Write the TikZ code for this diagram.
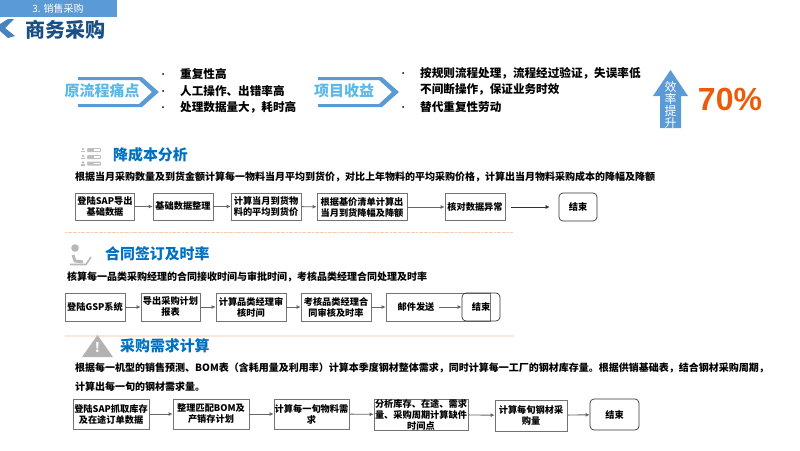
\documentclass[tikz,border=0pt]{standalone}
\usepackage{fontspec}
\setmainfont{Noto Sans CJK SC}
\newfontfamily\latinbold{Liberation Sans}
\usetikzlibrary{arrows.meta}
\definecolor{hdblue}{HTML}{5B9BD5}
\definecolor{ttblue}{HTML}{1A4F85}
\definecolor{skblue}{HTML}{5CB8E6}
\definecolor{secblue}{HTML}{0070C0}
\definecolor{iconred}{HTML}{ED5A0A}
\definecolor{rulepeach}{HTML}{F8CBAD}
\tikzset{
	flowbox/.style={draw=black!55,line width=.8pt,fill=white,align=center,inner sep=0pt,font=\fontsize{9.2}{11}\selectfont\bfseries},
	flowend/.style={draw=black!80,line width=.7pt,rounded corners=4pt,align=center,inner sep=0pt,font=\fontsize{9.2}{11}\selectfont\bfseries},
	flowarrow/.style={draw=black!60,line width=.9pt,-{Latex[length=4pt,width=4pt]}},
	sectitle/.style={anchor=west,inner sep=0pt,text=secblue,font=\fontsize{14.9}{16}\selectfont\bfseries},
	paratext/.style={anchor=west,inner sep=0pt,font=\fontsize{10}{12}\selectfont\bfseries},
	bullettext/.style={anchor=west,inner sep=0pt,font=\fontsize{11.6}{13}\selectfont\bfseries},
	chevlabel/.style={inner sep=0pt,text=skblue,font=\fontsize{15}{17}\selectfont\bfseries},
}
\begin{document}
\begin{tikzpicture}[x=1pt,y=-1pt]
	\useasboundingbox (0,0) rectangle (800,450);
	% header
	\fill[hdblue] (0,0) rectangle (117,17);
	\node[inner sep=0pt,text=white,font=\fontsize{10}{12}\selectfont] (crumb) at (58,9) {3. 销售采购};
	\fill[hdblue!70!ttblue] (0,24) -- (8,19) -- (14,19) -- (5,28) -- (15,36) -- (8,38) -- (0,31) -- cycle;
	\node[anchor=west,inner sep=0pt,text=ttblue,font=\fontsize{20}{22}\selectfont\bfseries] (title) at (25,30) {商务采购};
	% pain points and gains
	\fill[hdblue] (78,77) -- (142,77) -- (159,92) -- (142,107) -- (78,107) -- (78,104) -- (139,104) -- (152,92) -- (139,80) -- (78,80) -- cycle;
	\node[chevlabel] (pain) at (102,91) {原流程痛点};
	\fill[hdblue] (318,77) -- (382,77) -- (399,92) -- (382,107) -- (318,107) -- (318,104) -- (379,104) -- (392,92) -- (379,80) -- (318,80) -- cycle;
	\node[chevlabel] (gain) at (344,91) {项目收益};
	\foreach \ypos/\txt in {74/重复性高,91/人工操作、出错率高,107/处理数据量大，耗时高}{
		\fill (163,\ypos) circle (1pt);
		\node[bullettext] at (180,\ypos) {\txt};
	}
	\fill (403,73) circle (1pt);
	\node[bullettext] (gain1) at (420,73) {按规则流程处理，流程经过验证，失误率低};
	\node[bullettext] (gain2) at (420,89) {不间断操作，保证业务时效};
	\fill (403,107) circle (1pt);
	\node[bullettext] (gain3) at (420,107) {替代重复性劳动};
	% efficiency arrow
	\fill[hdblue] (670.5,70) -- (688,96) -- (681,96) -- (681,128) -- (660,128) -- (660,96) -- (653,96) -- cycle;
	\node[inner sep=0pt,align=center,text=white,font=\fontsize{12}{12.2}\selectfont] (eff) at (670.5,105) {效\\率\\提\\升};
	\node[inner sep=0pt,text=iconred,font=\latinbold\fontsize{32}{34}\selectfont\bfseries] (pct) at (730,99) {70\%};
	% section 1
	\foreach \ypos in {150,157,163.5}{
		\fill[black!25] (83,\ypos-1) circle (1.3pt);
		\fill[black!25] (81,\ypos+.5) rectangle (85,\ypos+2.2);
		\fill[black!25,rounded corners=1pt] (87,\ypos-2) rectangle (101,\ypos+2);
		\fill[white] (94,\ypos-.8) rectangle (100,\ypos+.8);
	}
	\node[sectitle] (sec1) at (113,155) {降成本分析};
	\node[paratext] (para1) at (75,177) {根据当月采购数量及到货金额计算每一物料当月平均到货价，对比上年物料的平均采购价格，计算出当月物料采购成本的降幅及降额};
	\node[flowbox,minimum width=59,minimum height=27] (a1) at (105,206.5) {登陆SAP导出\\基础数据};
	\node[flowbox,minimum width=60,minimum height=27] (a2) at (183,206.5) {基础数据整理};
	\node[flowbox,minimum width=70,minimum height=27] (a3) at (266,206.5) {计算当月到货物\\料的平均到货价};
	\node[flowbox,minimum width=90,minimum height=27] (a4) at (362,207) {根据基价清单计算出\\当月到货降幅及降额};
	\node[flowbox,minimum width=60,minimum height=27] (a5) at (475,207) {核对数据异常};
	\node[flowend,minimum width=38,minimum height=28] (a6) at (578,207) {结束};
	\draw[flowarrow] (a1) -- (a2);
	\draw[flowarrow] (a2) -- (a3);
	\draw[flowarrow] (a3) -- (a4);
	\draw[flowarrow] (a4) -- (a5);
	\draw[flowarrow,draw=black!80,line width=.6pt,shorten <=6pt,shorten >=9pt] (a5) -- (a6);
	\draw[draw=rulepeach,line width=.8pt,dash pattern=on 2pt off .6pt] (65,232) -- (513,232);
	% section 2
	\fill[black!28] (75,248) circle (3.8pt);
	\draw[black!28,line width=3pt,line join=round] (73,255) -- (75,261) -- (83,262);
	\draw[black!28,line width=1.6pt] (70,264.5) -- (86,264.5) -- (91,257);
	\node[sectitle] (sec2) at (105,254) {合同签订及时率};
	\node[paratext] (para2) at (67,277) {核算每一品类采购经理的合同接收时间与审批时间，考核品类经理合同处理及时率};
	\node[flowbox,minimum width=60,minimum height=28] (b1) at (95,307) {登陆GSP系统};
	\node[flowbox,minimum width=59,minimum height=28] (b2) at (170.5,307) {导出采购计划\\报表};
	\node[flowbox,minimum width=70,minimum height=28] (b3) at (251,307) {计算品类经理审\\核时间};
	\node[flowbox,minimum width=70,minimum height=28] (b4) at (336,307) {考核品类经理合\\同审核及时率};
	\node[flowbox,minimum width=104,minimum height=28] (b5) at (438,307) {};
	\node[inner sep=0pt,font=\fontsize{9.2}{11}\selectfont\bfseries] (b5txt) at (416,307) {邮件发送};
	\node[flowend,minimum width=38,minimum height=28] (b6) at (481,307) {结束};
	\draw[flowarrow] (b1) -- (b2);
	\draw[flowarrow] (b2) -- (b3);
	\draw[flowarrow] (b3) -- (b4);
	\draw[flowarrow] (b4) -- (b5);
	\draw[flowarrow,shorten <=4pt] (b5txt) -- (b6);
	\draw[draw=rulepeach!50,line width=2pt] (65,336) -- (514,336);
	% section 3
	\fill[black!30] (97.5,335) -- (113,357) -- (82,357) -- cycle;
	\node[inner sep=0pt,text=white,font=\fontsize{13}{13}\selectfont\bfseries] (warn) at (97.5,348) {!};
	\node[sectitle] (sec3) at (120,346) {采购需求计算};
	\node[paratext] (para3a) at (75,368) {根据每一机型的销售预测、BOM表（含耗用量及利用率）计算本季度钢材整体需求，同时计算每一工厂的钢材库存量。根据供销基础表，结合钢材采购周期，};
	\node[paratext] (para3b) at (75,387) {计算出每一旬的钢材需求量。};
	\node[flowbox,minimum width=76,minimum height=30] (c1) at (111,414) {登陆SAP抓取库存\\及在途订单数据};
	\node[flowbox,minimum width=76,minimum height=30] (c2) at (211,414) {整理匹配BOM及\\产销存计划};
	\node[flowbox,minimum width=75,minimum height=30] (c3) at (311.5,414) {计算每一旬物料需\\求};
	\node[flowbox,minimum width=94,minimum height=31] (c4) at (421,414.5) {分析库存、在途、需求\\量、采购周期计算缺件\\时间点};
	\node[flowbox,minimum width=72,minimum height=31] (c5) at (531,415.5) {计算每旬钢材采\\购量};
	\node[flowend,minimum width=49,minimum height=31] (c6) at (614.5,414.5) {结束};
	\draw[flowarrow] (c1) -- (c2);
	\draw[flowarrow] (c2) -- (c3);
	\draw[flowarrow] (c3) -- (c4);
	\draw[flowarrow] (c4) -- (c5);
	\draw[flowarrow] (c5) -- (c6);
\end{tikzpicture}
\end{document}
